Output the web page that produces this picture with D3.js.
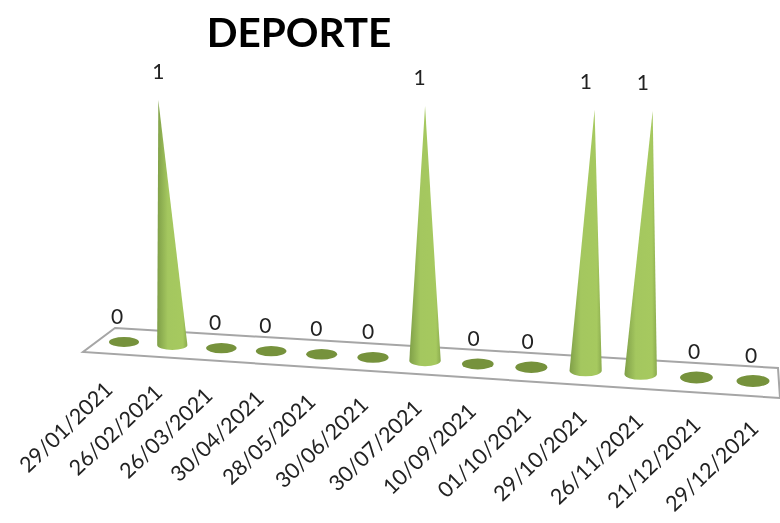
<!DOCTYPE html>
<html>
<head>
<meta charset="utf-8">
<script src="https://cdn.jsdelivr.net/npm/d3@7"></script>
<style>
  html, body { margin: 0; padding: 0; background: #fff; }
  text { font-family: Lato, "Open Sans", sans-serif; }
  svg { filter: blur(0.45px); }
</style>
</head>
<body>
<div id="chart"></div>
<script>
const width = 780;
const height = 523;

const dates = ['29/01/2021', '26/02/2021', '26/03/2021', '30/04/2021', '28/05/2021', '30/06/2021',
  '30/07/2021', '10/09/2021', '01/10/2021', '29/10/2021', '26/11/2021', '21/12/2021', '29/12/2021'];
const values = [0, 1, 0, 0, 0, 0, 1, 0, 0, 1, 1, 0, 0];

const svg = d3.select('#chart').append('svg')
  .attr('width', width)
  .attr('height', height)
  .style('display', 'block');

// the floor is seen in perspective, so the spacing grows to the right
const scaleIndex = d3.scalePow().exponent(2).domain([64, 76]).range([124, 753]);
const baseX = (i) => scaleIndex(i + 64);
const baseY = d3.scaleLinear().domain([124, 753]).range([342, 381]);
const topX = d3.scaleLinear().domain([172, 641]).range([158, 653]);
const topY = d3.scaleLinear().domain([158, 653]).range([100, 111]);
const radius = d3.scaleLinear().domain([124, 753]).range([15, 16.5]);
const radiusY = d3.scaleLinear().domain([124, 753]).range([5, 6]);
const labelShift = d3.scaleLinear().domain([124, 753]).range([-10, 7]);

// value 0 stays on the floor, value 1 reaches the cone tip
const pointAt = (i, v) => {
  const bx = baseX(i);
  const tx = topX(bx);
  return {
    x: d3.interpolateNumber(bx, tx)(v),
    y: d3.interpolateNumber(baseY(bx), topY(tx))(v),
  };
};

const gradient = svg.append('defs').append('linearGradient')
  .attr('id', 'cone')
  .attr('x1', '0%').attr('y1', '0%')
  .attr('x2', '100%').attr('y2', '0%');
gradient.append('stop').attr('offset', '0%').attr('stop-color', '#7f9f48');
gradient.append('stop').attr('offset', '35%').attr('stop-color', '#a4c75f');
gradient.append('stop').attr('offset', '85%').attr('stop-color', '#a6c95f');
gradient.append('stop').attr('offset', '100%').attr('stop-color', '#8bab4e');

// floor
svg.append('polygon')
  .attr('points', '115,328 778,368 780,398 83,352')
  .attr('fill', 'white')
  .attr('stroke', '#a6a6a6')
  .attr('stroke-width', 2);

const rows = dates.map((date, i) => ({ date, i, value: values[i] }));

// flat discs for the zeros
svg.append('g').selectAll('ellipse')
  .data(rows.filter(d => d.value === 0))
  .enter()
  .append('ellipse')
  .attr('cx', d => baseX(d.i))
  .attr('cy', d => pointAt(d.i, 0).y)
  .attr('rx', d => radius(baseX(d.i)))
  .attr('ry', d => radiusY(baseX(d.i)))
  .attr('fill', '#76923c');

// cones
svg.append('g').selectAll('path')
  .data(rows.filter(d => d.value > 0))
  .enter()
  .append('path')
  .attr('d', (d) => {
    const b = pointAt(d.i, 0);
    const t = pointAt(d.i, d.value);
    const r = radius(b.x);
    const ry = radiusY(b.x);
    return `M${b.x - r},${b.y} L${t.x},${t.y} L${b.x + r},${b.y} A${r},${ry} 0 0 1 ${b.x - r},${b.y} Z`;
  })
  .attr('fill', 'url(#cone)');

// value labels
svg.append('g').selectAll('text')
  .data(rows)
  .enter()
  .append('text')
  .attr('x', (d) => {
    const p = pointAt(d.i, d.value);
    return d.value ? p.x - (p.x - 158) * 0.02 : p.x - 7 + (p.x - 124) * 0.008;
  })
  .attr('y', (d) => pointAt(d.i, d.value).y - (d.value ? 21 : 18))
  .attr('text-anchor', 'middle')
  .attr('font-size', 21)
  .attr('fill', '#222')
  .text(d => d.value);

// date labels
svg.append('g').selectAll('text')
  .data(rows)
  .enter()
  .append('text')
  .attr('transform', (d) => {
    const p = pointAt(d.i, 0);
    return `translate(${p.x + labelShift(p.x)},${p.y + 49}) rotate(-44)`;
  })
  .attr('text-anchor', 'end')
  .attr('font-size', 21.5)
  .attr('fill', '#222')
  .text(d => d.date);

svg.append('text')
  .attr('x', 299)
  .attr('y', 47)
  .attr('text-anchor', 'middle')
  .attr('font-size', 40.5)
  .attr('font-weight', 700)
  .attr('fill', 'black')
  .text('DEPORTE');
</script>
</body>
</html>
